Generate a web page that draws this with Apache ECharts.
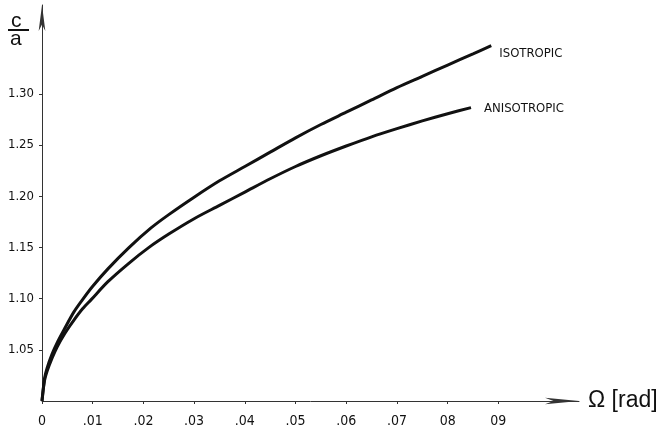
<!DOCTYPE html>
<html>
<head>
<meta charset="utf-8">
<script src="https://cdn.jsdelivr.net/npm/echarts@6/dist/echarts.min.js"></script>
<style>
html,body{margin:0;padding:0;background:#fff;}
#chart{width:664px;height:436px;}
</style>
</head>
<body>
<div id="chart"></div>
<script>
// Ω [rad] vs c/a
const isotropic = [
  [0,1.000],[0.0005,1.022],[0.001,1.032],[0.002,1.046],[0.003,1.057],[0.0045,1.071],
  [0.0063,1.087],[0.008,1.099],[0.01,1.112],[0.013,1.129],[0.0172,1.150],[0.0215,1.169],
  [0.025,1.182],[0.03,1.199],[0.035,1.215],[0.04,1.229],[0.045,1.243],[0.05,1.257],
  [0.055,1.270],[0.06,1.282],[0.065,1.294],[0.07,1.306],[0.075,1.317],[0.08,1.328],
  [0.085,1.339],[0.0886,1.347]
];
const anisotropic = [
  [0,1.000],[0.0005,1.020],[0.001,1.029],[0.002,1.042],[0.003,1.053],[0.0045,1.066],
  [0.0063,1.079],[0.008,1.090],[0.0097,1.099],[0.013,1.1165],[0.017,1.134],[0.0211,1.150],
  [0.025,1.163],[0.03,1.178],[0.035,1.191],[0.04,1.204],[0.045,1.217],[0.05,1.229],
  [0.055,1.2395],[0.06,1.249],[0.065,1.258],[0.07,1.266],[0.075,1.2735],[0.08,1.2805],
  [0.0846,1.2865]
];
const xTicks = [0,0.01,0.02,0.03,0.04,0.05,0.06,0.07,0.08,0.09];
const xTickLabels = ['0','.01','.02','.03','.04','.05','.06','.07','08','09'];
const yTicks = [1.05,1.10,1.15,1.20,1.25,1.30];
const yTickLabels = ['1.05','1.10','1.15','1.20','1.25','1.30'];

const chart = echarts.init(document.getElementById('chart'));
const font = "'Liberation Sans Narrow', 'DejaVu Sans Condensed', 'Liberation Sans', sans-serif";
const font2 = "'Liberation Sans', 'DejaVu Sans', sans-serif";
chart.setOption({
  animation: false,
  backgroundColor: '#fff',
  grid: {left: 42, top: 5, width: 537, height: 396, containLabel: false},
  xAxis: {
    type: 'value', min: 0, max: 0.1059,
    name: 'Ω [rad]', nameLocation: 'end', nameGap: 9,
    nameTextStyle: {color: '#111', fontSize: 23, fontFamily: font2, verticalAlign: 'middle', padding: [4, 0, 0, 0]},
    axisLine: {show: true, lineStyle: {color: '#333', width: 1}, symbol: ['none','arrow'], symbolSize: [5, 34], symbolOffset: [0, 0]},
    axisTick: {show: true, inside: false, length: 3, lineStyle: {color: '#333'}, customValues: xTicks},
    axisLabel: {
      color: '#111', fontSize: 14, fontFamily: font, margin: 13,
      customValues: xTicks,
      formatter: function (v) { const i = xTicks.findIndex(t => Math.abs(t - v) < 1e-9); return i >= 0 ? xTickLabels[i] : ''; }
    },
    splitLine: {show: false}
  },
  yAxis: {
    type: 'value', min: 1.0, max: 1.3867,
    axisLine: {show: true, lineStyle: {color: '#333', width: 1}, symbol: ['none','arrow'], symbolSize: [5, 26]},
    axisTick: {show: true, inside: false, length: 3, lineStyle: {color: '#333'}, customValues: yTicks},
    axisLabel: {
      color: '#111', fontSize: 13, fontFamily: font, margin: 8,
      customValues: yTicks,
      formatter: function (v) { const i = yTicks.findIndex(t => Math.abs(t - v) < 1e-9); return i >= 0 ? yTickLabels[i] : ''; }
    },
    splitLine: {show: false}
  },
  series: [
    {
      name: 'ISOTROPIC', type: 'line', data: isotropic, showSymbol: false, smooth: 0.3,
      lineStyle: {color: '#111', width: 3},
      endLabel: {show: true, formatter: '{a}', color: '#111', fontSize: 13, fontFamily: font, distance: 8, offset: [0, 8]}
    },
    {
      name: 'ANISOTROPIC', type: 'line', data: anisotropic, showSymbol: false, smooth: 0.3,
      lineStyle: {color: '#111', width: 3},
      endLabel: {show: true, formatter: '{a}', color: '#111', fontSize: 13, fontFamily: font, distance: 13, offset: [0, 1]}
    }
  ],
  graphic: [
    {type: 'text', left: 11, top: 11, style: {text: 'c', fontSize: 21, fontFamily: font2, fill: '#111'}},
    {type: 'line', shape: {x1: 8, y1: 30, x2: 29, y2: 30}, style: {stroke: '#111', lineWidth: 2}},
    {type: 'text', left: 10, top: 29, style: {text: 'a', fontSize: 21, fontFamily: font2, fill: '#111'}}
  ]
});
</script>
</body>
</html>
